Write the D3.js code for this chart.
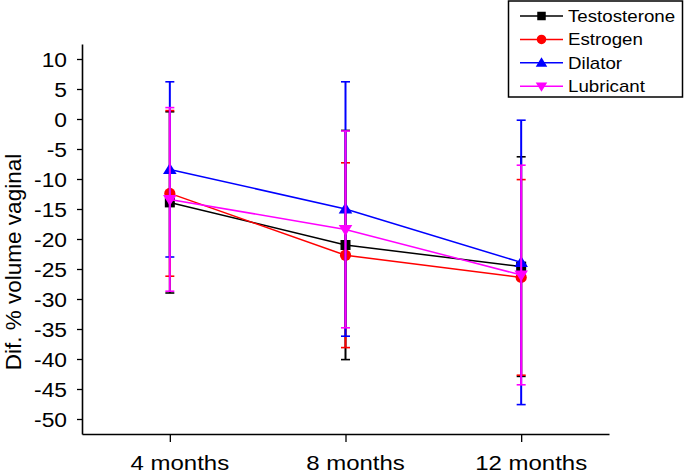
<!DOCTYPE html>
<html>
<head>
<meta charset="utf-8">
<script src="https://cdn.jsdelivr.net/npm/d3@7"></script>
<style>
  html, body { margin: 0; padding: 0; background: #fff; }
  svg { display: block; font-family: "Liberation Sans", Arial, Helvetica, sans-serif; }
</style>
</head>
<body>
<svg id="chart" width="685" height="475"></svg>
<script>
// ---- data ----
const categories = ["4 months", "8 months", "12 months"];
const seriesNames = ["Testosterone", "Estrogen", "Dilator", "Lubricant"];
const testosteroneMean = [-13.9, -21.0, -24.6];
const testosteroneSD   = [15.1, 19.1, 18.3];
const estrogenMean = [-12.4, -22.7, -26.4];
const estrogenSD   = [13.8, 15.4, 16.3];
const dilatorMean = [-8.4, -15.0, -23.9];
const dilatorSD   = [14.6, 21.2, 23.7];
const lubricantMean = [-13.4, -18.4, -26.0];
const lubricantSD   = [15.3, 16.4, 18.3];
const yTickValues = [-50, -45, -40, -35, -30, -25, -20, -15, -10, -5, 0, 5, 10];

const colors = ["#000000", "#ff0000", "#0000ff", "#ff00ff"];
const shapes = ["square", "circle", "up", "down"];
const series = [
  { name: seriesNames[0], mean: testosteroneMean, sd: testosteroneSD },
  { name: seriesNames[1], mean: estrogenMean, sd: estrogenSD },
  { name: seriesNames[2], mean: dilatorMean, sd: dilatorSD },
  { name: seriesNames[3], mean: lubricantMean, sd: lubricantSD }
];

const svg = d3.select("#chart");
const STRETCH = 1.17;

const x = d3.scaleLinear().domain([0.5, 3.5]).range([82, 609]);
const y = d3.scaleLinear().domain([-52.5, 12.5]).range([434, 44]);

// ---- axes ----
const yMinor = d3.range(-52.5, 13, 5);
const xMinor = [0.5, 1.5, 2.5, 3.5];

const gy = svg.append("g").attr("transform", `translate(${x(0.5)},0)`);
gy.call(d3.axisLeft(y).tickValues(yMinor).tickSize(3).tickSizeOuter(0).tickFormat(""));
gy.call(d3.axisLeft(y).tickValues(yTickValues).tickSize(5).tickSizeOuter(0).tickFormat(d3.format("d")));
gy.selectAll("path.domain").attr("stroke", "#000").attr("stroke-width", 1.6);
gy.selectAll(".tick line").attr("stroke", "#000").attr("stroke-width", 1.3);
gy.selectAll(".tick text")
  .attr("x", -15 / STRETCH).attr("dy", "0.36em")
  .attr("transform", `scale(${STRETCH},1)`)
  .attr("font-size", 19.5).attr("fill", "#000")
  .style("font-family", "Liberation Sans, Arial, sans-serif")
  .text(d => d < 0 ? "-" + Math.abs(d) : d);

const gx = svg.append("g").attr("transform", `translate(0,${y(-52.5)})`);
gx.call(d3.axisBottom(x).tickValues(xMinor).tickSize(5).tickSizeOuter(0).tickFormat(""));
gx.call(d3.axisBottom(x).tickValues([1, 2, 3]).tickSize(8).tickSizeOuter(0).tickFormat(d => categories[d - 1]));
gx.selectAll("path.domain").attr("stroke", "#000").attr("stroke-width", 1.6);
gx.selectAll(".tick line").attr("stroke", "#000").attr("stroke-width", 1.3);
gx.selectAll(".tick text")
  .attr("x", 9.5 / STRETCH).attr("y", 36).attr("dy", 0)
  .attr("transform", `scale(${STRETCH},1)`)
  .attr("font-size", 20.5).attr("fill", "#000")
  .style("font-family", "Liberation Sans, Arial, sans-serif");

// y title
svg.append("text")
  .attr("transform", `translate(21,${(146 + 378) / 2}) rotate(-90)`)
  .attr("text-anchor", "middle")
  .attr("font-size", 22.5)
  .attr("fill", "#000")
  .text("Dif. % volume vaginal");

// ---- markers ----
function drawMarker(g, shape, color, cx, cy, s) {
  s = s || 1;
  if (shape === "square") {
    g.append("rect").attr("x", cx - 5 * s).attr("y", cy - 5 * s)
      .attr("width", 10 * s).attr("height", 10 * s).attr("fill", color);
  } else if (shape === "circle") {
    g.append("circle").attr("cx", cx).attr("cy", cy).attr("r", 5.6 * s).attr("fill", color);
  } else if (shape === "up") {
    g.append("path").attr("d", `M${cx},${cy - 6.5 * s}L${cx + 6.8 * s},${cy + 4.5 * s}L${cx - 6.8 * s},${cy + 4.5 * s}Z`).attr("fill", color);
  } else {
    g.append("path").attr("d", `M${cx},${cy + 6.5 * s}L${cx + 6.8 * s},${cy - 4.5 * s}L${cx - 6.8 * s},${cy - 4.5 * s}Z`).attr("fill", color);
  }
}

const line = d3.line().x((d, i) => x(i + 1)).y(d => y(d));

series.forEach((s, k) => {
  const g = svg.append("g");
  const c = colors[k];
  // error bars
  s.mean.forEach((m, i) => {
    const cx = x(i + 1), top = y(m + s.sd[i]), bot = y(m - s.sd[i]);
    g.append("line").attr("x1", cx).attr("x2", cx).attr("y1", top).attr("y2", bot)
      .attr("stroke", c).attr("stroke-width", 2);
    [top, bot].forEach(yy => g.append("line").attr("x1", cx - 4.5).attr("x2", cx + 4.5)
      .attr("y1", yy).attr("y2", yy).attr("stroke", c).attr("stroke-width", 1.6));
  });
  g.append("path").datum(s.mean).attr("d", line).attr("fill", "none")
    .attr("stroke", c).attr("stroke-width", 1.5);
  s.mean.forEach((m, i) => drawMarker(g, shapes[k], c, x(i + 1), y(m)));
});

// ---- legend ----
const lg = svg.append("g");
lg.append("rect").attr("x", 508.5).attr("y", 1).attr("width", 174).attr("height", 96)
  .attr("fill", "#fff").attr("stroke", "#000").attr("stroke-width", 1.5);
series.forEach((s, k) => {
  const cy = 16 + k * 23.4;
  lg.append("line").attr("x1", 520).attr("x2", 563).attr("y1", cy).attr("y2", cy)
    .attr("stroke", colors[k]).attr("stroke-width", 1.5);
  drawMarker(lg, shapes[k], colors[k], 541.5, cy, 0.85);
  lg.append("text").attr("transform", `translate(568,${cy + 6}) scale(${STRETCH},1)`)
    .attr("font-size", 16).attr("fill", "#000").text(s.name);
});
</script>
</body>
</html>
